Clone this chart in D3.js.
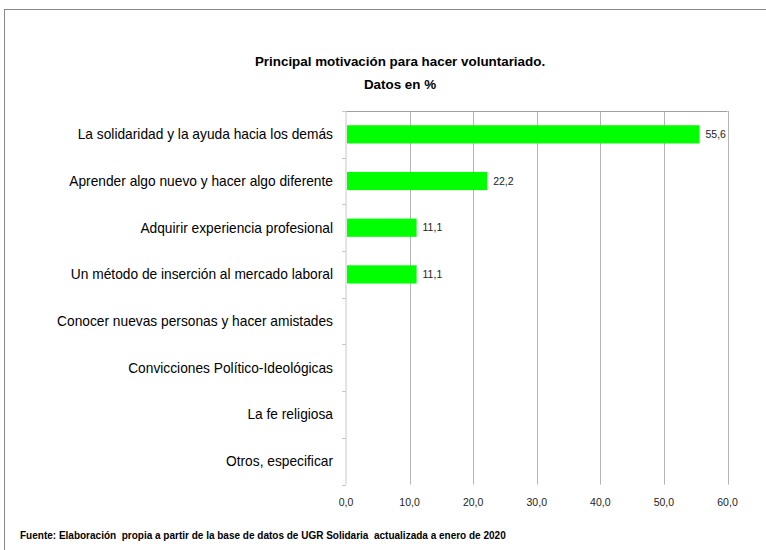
<!DOCTYPE html>
<html>
<head>
<meta charset="utf-8">
<script src="https://cdn.jsdelivr.net/npm/d3@7"></script>
<style>
	body { margin: 0; background: #fff; }
	svg text { font-family: "Liberation Sans", Arial, sans-serif; fill: #000; white-space: pre; }
</style>
</head>
<body>
<div id="graph"></div>
<script>
var categories = [
	"La solidaridad y la ayuda hacia los demás",
	"Aprender algo nuevo y hacer algo diferente",
	"Adquirir experiencia profesional",
	"Un método de inserción al mercado laboral",
	"Conocer nuevas personas y hacer amistades",
	"Convicciones Político-Ideológicas",
	"La fe religiosa",
	"Otros, especificar"
];
var values = [55.6, 22.2, 11.1, 11.1, null, null, null, null];
var xTicks = [0, 10, 20, 30, 40, 50, 60];

var w = 766, h = 550;
var plotLeft = 346, plotRight = 727.5, plotTop = 111, plotBottom = 484.5;

var fmt = function (v) { return v.toFixed(1).replace(".", ","); };

var svg = d3.select("#graph")
	.append("svg")
	.attr("width", w)
	.attr("height", h);

// outer frame
svg.append("rect")
	.attr("x", 4.5)
	.attr("y", 9.5)
	.attr("width", 800)
	.attr("height", 600)
	.attr("fill", "none")
	.attr("stroke", "#888")
	.attr("stroke-width", 1);

var xScale = d3.scaleLinear()
	.domain([0, 60])
	.range([plotLeft, plotRight]);
var yScale = d3.scaleBand()
	.domain(categories)
	.range([plotTop, plotBottom])
	.paddingInner(0.61)
	.paddingOuter(0.305);

// gridlines
svg.append("g")
	.selectAll("line")
	.data(xTicks.slice(1))
	.enter()
	.append("line")
	.attr("x1", function (d) { return Math.round(xScale(d)) + 0.5; })
	.attr("x2", function (d) { return Math.round(xScale(d)) + 0.5; })
	.attr("y1", plotTop)
	.attr("y2", plotBottom)
	.attr("stroke", "#b5b5b5")
	.attr("stroke-width", 1);

svg.append("line")
	.attr("x1", plotLeft - 4)
	.attr("x2", plotRight)
	.attr("y1", plotTop + 0.5)
	.attr("y2", plotTop + 0.5)
	.attr("stroke", "#a0a0a0");

// y axis with ticks between categories
var yAxisG = svg.append("g");
yAxisG.append("line")
	.attr("x1", plotLeft).attr("x2", plotLeft)
	.attr("y1", plotTop).attr("y2", plotBottom)
	.attr("stroke", "#c8c8c8");
var step = yScale.step();
yAxisG.selectAll("line.tk")
	.data(d3.range(categories.length + 1))
	.enter()
	.append("line")
	.attr("class", "tk")
	.attr("x1", plotLeft - 4).attr("x2", plotLeft)
	.attr("y1", function (i) { return Math.round(plotTop + i * step) + 0.5; })
	.attr("y2", function (i) { return Math.round(plotTop + i * step) + 0.5; })
	.attr("stroke", "#c8c8c8");

// bars
svg.append("g")
	.selectAll("rect")
	.data(categories)
	.enter()
	.filter(function (d, i) { return values[i] != null; })
	.append("rect")
	.attr("x", xScale(0) + 1)
	.attr("y", function (d) { return yScale(d); })
	.attr("width", function (d) { return xScale(values[categories.indexOf(d)]) - xScale(0) - 1; })
	.attr("height", yScale.bandwidth())
	.attr("fill", "#00ff00");

// value labels
svg.append("g")
	.selectAll("text")
	.data(categories)
	.enter()
	.filter(function (d, i) { return values[i] != null; })
	.append("text")
	.attr("x", function (d) { return xScale(values[categories.indexOf(d)]) + 6; })
	.attr("y", function (d) { return yScale(d) + yScale.bandwidth() / 2; })
	.attr("dy", "0.35em")
	.style("font-size", "10.5px")
	.style("fill", "#222")
	.text(function (d) { return fmt(values[categories.indexOf(d)]); });

// category labels
svg.append("g")
	.selectAll("text")
	.data(categories)
	.enter()
	.append("text")
	.attr("x", 333)
	.attr("y", function (d) { return yScale(d) + yScale.bandwidth() / 2; })
	.attr("dy", "0.35em")
	.attr("text-anchor", "end")
	.style("font-size", "13.75px")
	.text(function (d) { return d; });

// x tick labels
svg.append("g")
	.selectAll("text")
	.data(xTicks)
	.enter()
	.append("text")
	.attr("x", function (d) { return xScale(d); })
	.attr("y", 502)
	.attr("dy", "0.35em")
	.attr("text-anchor", "middle")
	.style("font-size", "10.5px")
	.style("fill", "#222")
	.text(fmt);

// title
svg.append("text")
	.attr("x", 400)
	.attr("y", 66)
	.attr("text-anchor", "middle")
	.style("font-size", "13.4px")
	.style("font-weight", "bold")
	.text("Principal motivación para hacer voluntariado.");
svg.append("text")
	.attr("x", 400)
	.attr("y", 89)
	.attr("text-anchor", "middle")
	.style("font-size", "13.4px")
	.style("font-weight", "bold")
	.text("Datos en %");

// source
svg.append("text")
	.attr("x", 20)
	.attr("y", 539)
	.style("font-size", "10px")
	.style("font-weight", "bold")
	.text("Fuente: Elaboración  propia a partir de la base de datos de UGR Solidaria  actualizada a enero de 2020");
</script>
</body>
</html>
